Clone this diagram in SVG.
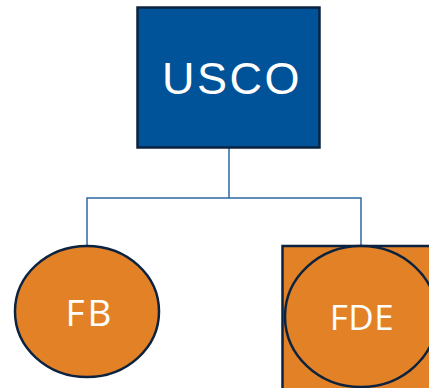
<svg xmlns="http://www.w3.org/2000/svg" width="429" height="388" viewBox="0 0 429 388">
  <style>
    .box { fill: #005299; stroke: #0c2340; stroke-width: 2.5; }
    .org { fill: #e38127; stroke: #0c2340; stroke-width: 2.5; }
    .lbl { fill: #ffffff; text-anchor: middle; }
    .sans { font-family: "Liberation Sans", Arial, sans-serif; }
    .cal { font-family: "Open Sans", "Noto Sans", sans-serif; }
    .link { fill: none; stroke: #2e6aa3; stroke-width: 1.5; }
  </style>
  <rect width="429" height="388" fill="#ffffff"/>
  <g id="connectors">
    <path class="link" d="M229 148 V198 H87 V246 M229 198 H361 V246"/>
  </g>
  <g id="usco">
    <rect class="box" x="137.5" y="7.5" width="182" height="140"/>
    <text class="lbl sans" x="232" y="94" font-size="45" letter-spacing="2.5">USCO</text>
  </g>
  <g id="fb">
    <ellipse class="org" cx="87" cy="311.5" rx="72" ry="65.5"/>
    <text class="lbl cal" x="90" y="326" font-size="37" letter-spacing="3">FB</text>
  </g>
  <g id="fde">
    <rect class="org" x="282.5" y="246" width="160" height="150"/>
    <ellipse class="org" cx="361" cy="316.5" rx="76" ry="70.5"/>
    <text class="lbl cal" x="362" y="329.5" font-size="35" letter-spacing="0.5">FDE</text>
  </g>
</svg>
